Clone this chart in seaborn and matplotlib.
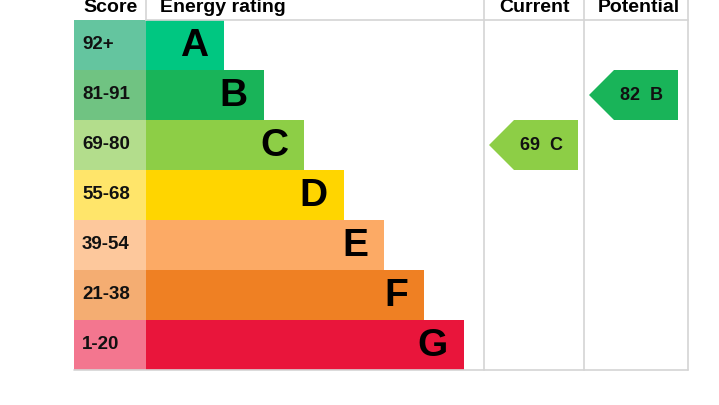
import matplotlib
matplotlib.use("Agg")
import matplotlib.pyplot as plt
from matplotlib.patches import Polygon
import seaborn as sns

sns.set_style("white")
plt.rcParams['font.family'] = ['Liberation Sans', 'DejaVu Sans']

# EPC bands, best to worst
bands = ['A', 'B', 'C', 'D', 'E', 'F', 'G']
score_ranges = ['92+', '81-91', '69-80', '55-68', '39-54', '21-38', '1-20']
band_min = [92, 81, 69, 55, 39, 21, 1]
bar_colors = ['#00c781', '#19b459', '#8dce46', '#ffd500', '#fcaa65', '#ef8023', '#e9153b']
score_colors = ['#64c59f', '#70c382', '#b3dd8c', '#ffe56a', '#fdc89c', '#f4ad72', '#f3768f']

current_score = 69
potential_score = 82


def band_of(score):
    for i, lo in enumerate(band_min):
        if score >= lo:
            return i
    return len(bands) - 1


fig = plt.figure(figsize=(7.19, 4.05), dpi=100)
ax = fig.add_axes([0, 0, 1, 1])
# x in pixels, y in rows (row i spans i..i+1), 50 px per row, first row at y=20px
ax.set_xlim(0, 719)
ax.set_ylim(7.7, -0.4)
ax.axis('off')

grid = '#d4d4d4'
score_l, bar_l = 74, 146
cur_l, pot_l, right = 484, 584, 688

for i, b in enumerate(bands):
    ax.barh(i + 0.5, bar_l - score_l, left=score_l, height=1.0,
            color=score_colors[i], edgecolor='none')
    w = 78 + 40 * i
    ax.barh(i + 0.5, w, left=bar_l, height=1.0, color=bar_colors[i], edgecolor='none')
    ax.text(score_l + 8, i + 0.5, score_ranges[i], ha='left', va='center',
            fontsize=13.5, fontweight='bold', color='#111111')
    ax.text(bar_l + w - 16, i + 0.52, b, ha='right', va='center',
            fontsize=28, fontweight='bold', color='#000000')

# grid lines
ax.plot([bar_l, right], [0, 0], color=grid, lw=1.2)
ax.plot([score_l, right], [7, 7], color=grid, lw=1.2)
for x in (cur_l, pot_l, right):
    ax.plot([x, x], [-0.4, 7], color=grid, lw=1.2)
ax.plot([bar_l, bar_l], [-0.4, 0], color=grid, lw=1.2)

# headers
hdr = dict(fontsize=14, fontweight='bold', color='#000000', va='center')
ax.text(110, -0.24, 'Score', ha='center', **hdr)
ax.text(160, -0.24, 'Energy rating', ha='left', **hdr)
ax.text(534, -0.24, 'Current', ha='center', **hdr)
ax.text(639, -0.24, 'Potential', ha='center', **hdr)


def arrow(col_left, score):
    i = band_of(score)
    tip, body, end = col_left + 5, col_left + 30, col_left + 94
    poly = Polygon([(tip, i + 0.5), (body, i), (end, i), (end, i + 1), (body, i + 1)],
                   closed=True, facecolor=bar_colors[i], edgecolor='none')
    ax.add_patch(poly)
    ax.text((body + end) / 2 - 5, i + 0.52, f'{score}  {bands[i]}', ha='center',
            va='center', fontsize=13, fontweight='bold', color='#111111')


arrow(cur_l, current_score)
arrow(pot_l, potential_score)

fig.savefig('out.png', dpi=100)
